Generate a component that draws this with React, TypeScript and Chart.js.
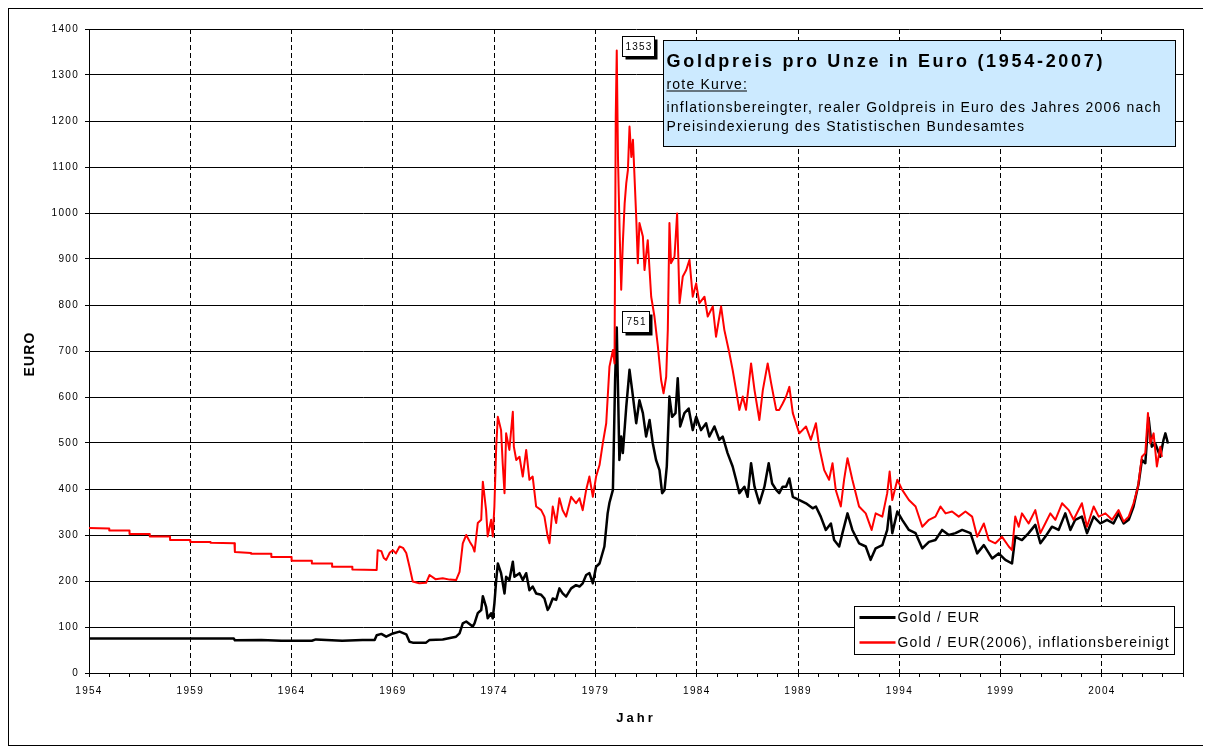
import React, { useEffect, useRef } from "react";
import { Chart, registerables } from "chart.js";
Chart.register(...registerables);

// Gold / EUR (nominal)
const blackYears = [
  1954.0, 1961.15, 1961.2, 1962.5, 1963.5, 1965.0, 1965.2, 1966.5, 1967.5, 1968.1,
  1968.2, 1968.43, 1968.67, 1969.0, 1969.33, 1969.66, 1969.82, 1969.98, 1970.64, 1970.81,
  1971.46, 1972.12, 1972.29, 1972.45, 1972.62, 1972.94, 1973.03, 1973.19, 1973.36, 1973.44,
  1973.6, 1973.68, 1973.85, 1973.93, 1974.01, 1974.1, 1974.18, 1974.34, 1974.51, 1974.59,
  1974.75, 1974.92, 1975.0, 1975.25, 1975.41, 1975.58, 1975.74, 1975.9, 1976.07, 1976.32,
  1976.48, 1976.64, 1976.73, 1976.89, 1977.06, 1977.22, 1977.38, 1977.55, 1977.8, 1978.04,
  1978.21, 1978.37, 1978.54, 1978.7, 1978.87, 1979.03, 1979.2, 1979.44, 1979.6, 1979.69,
  1979.86, 1979.97, 1980.05, 1980.12, 1980.18, 1980.27, 1980.35, 1980.52, 1980.68, 1980.81,
  1981.01, 1981.17, 1981.34, 1981.5, 1981.67, 1981.83, 1981.99, 1982.16, 1982.29, 1982.41,
  1982.52, 1982.65, 1982.78, 1982.95, 1983.06, 1983.18, 1983.39, 1983.6, 1983.8, 1983.97,
  1984.21, 1984.46, 1984.62, 1984.87, 1985.11, 1985.28, 1985.52, 1985.77, 1985.94, 1986.1,
  1986.35, 1986.51, 1986.68, 1986.85, 1987.09, 1987.34, 1987.55, 1987.72, 1987.92, 1988.07,
  1988.24, 1988.41, 1988.57, 1988.74, 1989.07, 1989.39, 1989.72, 1989.88, 1990.12, 1990.37,
  1990.62, 1990.78, 1991.03, 1991.19, 1991.44, 1991.68, 1992.01, 1992.34, 1992.58, 1992.83,
  1993.16, 1993.4, 1993.53, 1993.65, 1993.9, 1994.14, 1994.47, 1994.8, 1995.13, 1995.46,
  1995.78, 1996.11, 1996.44, 1996.77, 1997.1, 1997.51, 1997.84, 1998.17, 1998.58, 1998.9,
  1999.23, 1999.56, 1999.72, 2000.05, 2000.38, 2000.71, 2000.96, 2001.2, 2001.53, 2001.86,
  2002.19, 2002.44, 2002.68, 2003.01, 2003.26, 2003.59, 2003.92, 2004.25, 2004.57, 2004.82,
  2005.07, 2005.32, 2005.56, 2005.81, 2005.97, 2006.14, 2006.3, 2006.46, 2006.63, 2006.88,
  2007.04, 2007.13, 2007.26,
];
const blackValues = [
  75, 75, 71, 72, 70, 70, 73, 70, 72, 72,
  82, 85, 79, 86, 90, 84, 68, 66, 66, 72,
  73, 79, 86, 108, 112, 101, 108, 130, 137, 167,
  144, 119, 130, 119, 151, 202, 238, 217, 173, 209,
  202, 242, 209, 217, 202, 217, 180, 188, 173, 170,
  162, 137, 144, 162, 159, 184, 173, 166, 184, 191,
  188, 195, 213, 217, 195, 231, 238, 275, 347, 370,
  398, 640, 751, 600, 463, 514, 478, 579, 659, 615,
  543, 593, 565, 514, 550, 499, 463, 441, 391, 398,
  449, 601, 557, 565, 641, 536, 565, 575, 528, 557,
  528, 543, 514, 536, 507, 514, 478, 449, 420, 391,
  405, 383, 456, 405, 369, 405, 456, 412, 398, 391,
  405, 405, 423, 383, 376, 369, 358, 362, 340, 311,
  325, 289, 275, 304, 347, 311, 282, 275, 246, 271,
  278, 311, 362, 304, 351, 333, 311, 304, 271, 285,
  289, 311, 300, 304, 311, 304, 260, 278, 249, 260,
  246, 238, 296, 289, 304, 322, 282, 296, 318, 311,
  347, 311, 333, 340, 304, 340, 325, 333, 325, 347,
  325, 333, 362, 412, 463, 456, 555, 492, 499, 470,
  507, 521, 499,
];

// Gold / EUR(2006), inflationsbereinigt
const redYears = [
  1954.0, 1955.0, 1955.0, 1956.0, 1956.0, 1957.0, 1957.0, 1958.0, 1958.0, 1959.0,
  1959.0, 1960.0, 1960.0, 1961.18, 1961.2, 1962.0, 1962.0, 1963.0, 1963.0, 1964.0,
  1964.0, 1965.0, 1965.0, 1966.0, 1966.0, 1967.0, 1967.0, 1968.2, 1968.25, 1968.43,
  1968.55, 1968.67, 1968.85, 1969.0, 1969.15, 1969.33, 1969.5, 1969.66, 1969.82, 1969.98,
  1970.3, 1970.64, 1970.81, 1971.1, 1971.46, 1971.8, 1972.12, 1972.29, 1972.45, 1972.62,
  1972.8, 1972.94, 1973.03, 1973.19, 1973.36, 1973.44, 1973.6, 1973.68, 1973.85, 1973.93,
  1974.01, 1974.1, 1974.18, 1974.34, 1974.42, 1974.51, 1974.59, 1974.75, 1974.92, 1974.97,
  1975.09, 1975.25, 1975.41, 1975.58, 1975.74, 1975.9, 1976.07, 1976.32, 1976.48, 1976.64,
  1976.73, 1976.89, 1977.06, 1977.22, 1977.38, 1977.55, 1977.8, 1978.04, 1978.21, 1978.37,
  1978.54, 1978.7, 1978.87, 1979.03, 1979.2, 1979.36, 1979.53, 1979.69, 1979.86, 1979.94,
  1980.0, 1980.05, 1980.11, 1980.19, 1980.27, 1980.35, 1980.44, 1980.52, 1980.6, 1980.68,
  1980.77, 1980.85, 1981.01, 1981.09, 1981.17, 1981.34, 1981.42, 1981.58, 1981.75, 1981.91,
  1982.08, 1982.24, 1982.36, 1982.49, 1982.57, 1982.65, 1982.73, 1982.9, 1983.03, 1983.15,
  1983.31, 1983.48, 1983.64, 1983.8, 1983.97, 1984.13, 1984.38, 1984.54, 1984.79, 1984.95,
  1985.2, 1985.36, 1985.61, 1985.77, 1985.94, 1986.1, 1986.27, 1986.43, 1986.68, 1986.85,
  1987.09, 1987.26, 1987.5, 1987.67, 1987.92, 1988.07, 1988.24, 1988.41, 1988.57, 1988.74,
  1989.06, 1989.39, 1989.63, 1989.88, 1990.04, 1990.29, 1990.53, 1990.7, 1990.86, 1991.11,
  1991.27, 1991.44, 1991.68, 1992.01, 1992.34, 1992.63, 1992.83, 1993.16, 1993.4, 1993.52,
  1993.65, 1993.9, 1994.14, 1994.47, 1994.8, 1995.13, 1995.46, 1995.78, 1996.03, 1996.28,
  1996.6, 1996.93, 1997.26, 1997.59, 1997.84, 1998.17, 1998.41, 1998.74, 1999.07, 1999.4,
  1999.56, 1999.72, 1999.89, 2000.05, 2000.38, 2000.71, 2000.96, 2001.2, 2001.45, 2001.7,
  2002.03, 2002.36, 2002.6, 2003.01, 2003.26, 2003.59, 2003.84, 2004.17, 2004.5, 2004.82,
  2005.07, 2005.32, 2005.56, 2005.78, 2005.97, 2006.14, 2006.27, 2006.38, 2006.55, 2006.71,
  2006.88, 2006.96,
];
const redValues = [
  315, 314, 310, 310, 302, 302, 297, 297, 289, 289,
  285, 285, 283, 282, 263, 261, 259, 259, 252, 252,
  244, 244, 238, 238, 231, 231, 225, 224, 267, 265,
  250, 246, 262, 267, 260, 275, 272, 261, 231, 199,
  195, 196, 213, 204, 206, 203, 202, 220, 282, 300,
  285, 275, 264, 326, 333, 416, 354, 297, 333, 297,
  362, 492, 557, 528, 456, 391, 521, 485, 568, 492,
  463, 470, 427, 485, 420, 427, 362, 354, 340, 297,
  282, 362, 326, 380, 354, 340, 383, 369, 380, 354,
  398, 427, 383, 427, 452, 499, 543, 666, 702, 673,
  1209, 1353, 1122, 963, 833, 935, 1021, 1065, 1093, 1188,
  1122, 1159, 992, 891, 978, 949, 876, 941, 818, 775,
  710, 637, 608, 644, 746, 978, 891, 905, 999, 804,
  862, 876, 898, 818, 847, 804, 818, 775, 797, 731,
  797, 746, 695, 659, 615, 572, 601, 572, 673, 615,
  550, 615, 673, 630, 572, 572, 586, 601, 622, 565,
  521, 536, 507, 543, 492, 441, 420, 456, 398, 362,
  420, 467, 420, 362, 347, 311, 347, 340, 391, 438,
  376, 420, 398, 376, 362, 318, 333, 340, 362, 347,
  351, 340, 351, 340, 296, 325, 289, 282, 296, 275,
  267, 340, 318, 347, 325, 354, 304, 325, 347, 333,
  369, 354, 333, 369, 318, 362, 340, 347, 333, 354,
  329, 340, 369, 405, 470, 478, 565, 499, 521, 449,
  492, 470,
];

const seriesLabels = ["Gold / EUR", "Gold / EUR(2006), inflationsbereinigt"];
const seriesColors = ["#000000", "#ff0000"];

const xMin = 1954;
const xMax = 2008;
const xLabelStep = 5;
const yMin = 0;
const yMax = 1400;
const yStep = 100;

const titleText = "Goldpreis pro Unze in Euro (1954-2007)";
const noteHeading = "rote Kurve:";
const noteLines = [
  "inflationsbereingter, realer Goldpreis in Euro des Jahres 2006 nach",
  "Preisindexierung des Statistischen Bundesamtes",
];
const xTitle = "Jahr";
const yTitle = "EURO";

const FONT = "'Liberation Sans', Arial, Helvetica, sans-serif";

const setSpacing = (ctx: any, s: string) => {
  ctx.letterSpacing = s;
};

const peakIndex = (vals: number[]) => vals.indexOf(Math.max(...vals));

function peakLabel(ctx: CanvasRenderingContext2D, px: number, py: number, text: string, dx: number, dy: number, w: number, h: number) {
  const x = Math.round(px + dx) + 0.5;
  const y = Math.round(py + dy) + 0.5;
  ctx.fillStyle = "#000";
  ctx.fillRect(x + 3, y + 3, w, h);
  ctx.fillStyle = "#fff";
  ctx.fillRect(x, y, w, h);
  ctx.strokeStyle = "#000";
  ctx.lineWidth = 1;
  ctx.strokeRect(x, y, w, h);
  ctx.fillStyle = "#000";
  ctx.font = `10px ${FONT}`;
  setSpacing(ctx, "1.2px");
  ctx.textAlign = "center";
  ctx.textBaseline = "middle";
  ctx.fillText(text, x + w / 2 + 0.6, y + h / 2 + 0.5);
}

const overlayPlugin = {
  id: "overlay",
  beforeDraw(chart: any) {
    setSpacing(chart.ctx, "1.3px");
  },
  afterDraw(chart: any) {
    const ctx: CanvasRenderingContext2D = chart.ctx;
    const { left, top, right, bottom } = chart.chartArea;
    const xs = chart.scales.x;
    const ys = chart.scales.y;
    ctx.save();

    // peak labels
    const ri = peakIndex(redValues);
    peakLabel(ctx, xs.getPixelForValue(redYears[ri]), ys.getPixelForValue(redValues[ri]), String(redValues[ri]), 5, -15, 32, 20);
    const bi = peakIndex(blackValues);
    peakLabel(ctx, xs.getPixelForValue(blackYears[bi]), ys.getPixelForValue(blackValues[bi]), String(blackValues[bi]), 5, -17, 27, 21);

    // title box
    const bx = right - 520 + 0.5;
    const by = top + 11 + 0.5;
    const bw = 512;
    const bh = 106;
    ctx.fillStyle = "#cceaff";
    ctx.fillRect(bx, by, bw, bh);
    ctx.strokeStyle = "#000";
    ctx.lineWidth = 1;
    ctx.strokeRect(bx, by, bw, bh);
    ctx.fillStyle = "#000";
    ctx.textAlign = "left";
    ctx.textBaseline = "alphabetic";
    ctx.font = `bold 18px ${FONT}`;
    setSpacing(ctx, "2.7px");
    ctx.fillText(titleText, bx + 3, by + 26);
    ctx.font = `14px ${FONT}`;
    setSpacing(ctx, "1.2px");
    ctx.fillText(noteHeading, bx + 3, by + 48);
    const hw = ctx.measureText(noteHeading).width - 1.2;
    ctx.fillRect(bx + 3, by + 50, hw, 1);
    ctx.fillText(noteLines[0], bx + 3, by + 71);
    ctx.fillText(noteLines[1], bx + 3, by + 90);

    // legend box
    const lx = right - 329 + 0.5;
    const ly = bottom - 67 + 0.5;
    const lw = 320;
    const lh = 48;
    ctx.fillStyle = "#fff";
    ctx.fillRect(lx, ly, lw, lh);
    ctx.strokeStyle = "#000";
    ctx.strokeRect(lx, ly, lw, lh);
    ctx.font = `14px ${FONT}`;
    setSpacing(ctx, "1.2px");
    ctx.textBaseline = "middle";
    seriesLabels.forEach((label, i) => {
      const rowY = ly + 11 + i * 25;
      ctx.strokeStyle = seriesColors[i];
      ctx.lineWidth = i === 0 ? 3 : 2.5;
      ctx.beginPath();
      ctx.moveTo(lx + 5, rowY);
      ctx.lineTo(lx + 41, rowY);
      ctx.stroke();
      ctx.fillStyle = "#000";
      ctx.fillText(label, lx + 43, rowY + 1);
    });

    // axis titles
    ctx.fillStyle = "#000";
    ctx.textAlign = "center";
    ctx.textBaseline = "middle";
    ctx.font = `bold 13px ${FONT}`;
    setSpacing(ctx, "3px");
    ctx.fillText(xTitle, (left + right) / 2, bottom + 45);
    ctx.save();
    ctx.translate(21, (top + bottom) / 2 + 3);
    ctx.rotate(-Math.PI / 2);
    ctx.font = `bold 14px ${FONT}`;
    setSpacing(ctx, "1.2px");
    ctx.fillText(yTitle, 0, 0);
    ctx.restore();

    ctx.restore();
  },
};

const isLabelYear = (v: number) => (Math.round(v) - xMin) % xLabelStep === 0;

export default function App() {
  const canvasRef = useRef<HTMLCanvasElement>(null);

  useEffect(() => {
    if (!canvasRef.current) return;
    const chart = new Chart(canvasRef.current, {
      type: "line",
      data: {
        datasets: [
          {
            label: seriesLabels[1],
            data: redYears.map((x, i) => ({ x, y: redValues[i] })),
            borderColor: seriesColors[1],
            borderWidth: 2,
            pointRadius: 0,
            tension: 0,
            borderJoinStyle: "round",
            fill: false,
          },
          {
            label: seriesLabels[0],
            data: blackYears.map((x, i) => ({ x, y: blackValues[i] })),
            borderColor: seriesColors[0],
            borderWidth: 2.5,
            pointRadius: 0,
            tension: 0,
            borderJoinStyle: "round",
            fill: false,
          },
        ],
      },
      options: {
        animation: false,
        responsive: true,
        maintainAspectRatio: false,
        events: [],
        layout: { padding: { top: 20, right: 21, left: 0, bottom: 0 } },
        plugins: {
          legend: { display: false },
          tooltip: { enabled: false },
        },
        scales: {
          x: {
            type: "linear",
            min: xMin,
            max: xMax,
            afterFit: (s: any) => {
              s.height = 72;
              s.paddingLeft = 0;
              s.paddingRight = 0;
            },
            ticks: {
              stepSize: 1,
              autoSkip: false,
              maxRotation: 0,
              minRotation: 0,
              padding: 8,
              color: "#000",
              font: { family: FONT, size: 10 },
              callback: (v: any) => (isLabelYear(Number(v)) ? String(Math.round(Number(v))) : ""),
            },
            grid: {
              color: (c: any) => {
                const v = c.tick ? Math.round(c.tick.value) : NaN;
                if (v === xMax) return "#000";
                if (v !== xMin && isLabelYear(v)) return "#000";
                return "rgba(0,0,0,0)";
              },
              tickColor: "#000",
              tickLength: 4,
              lineWidth: 1,
            },
            border: {
              color: "#000",
              width: 1,
              dash: (c: any) => (c.tick && Math.round(c.tick.value) !== xMax ? [5, 3] : []),
            },
          },
          y: {
            min: yMin,
            max: yMax,
            afterFit: (s: any) => {
              s.width = 80;
              s.paddingTop = 0;
              s.paddingBottom = 0;
            },
            ticks: {
              stepSize: yStep,
              padding: 6,
              color: "#000",
              font: { family: FONT, size: 10 },
              callback: (v: any) => String(v),
            },
            grid: { color: "#000", tickColor: "#000", tickLength: 4, lineWidth: 1 },
            border: { color: "#000", width: 1 },
          },
        },
      },
      plugins: [overlayPlugin],
    } as any);
    return () => {
      chart.destroy();
    };
  }, []);

  return (
    <div
      style={{
        width: 1197,
        height: 738,
        border: "1px solid #000",
        boxSizing: "border-box",
        position: "relative",
        background: "#fff",
      }}
    >
      <canvas ref={canvasRef}></canvas>
    </div>
  );
}
